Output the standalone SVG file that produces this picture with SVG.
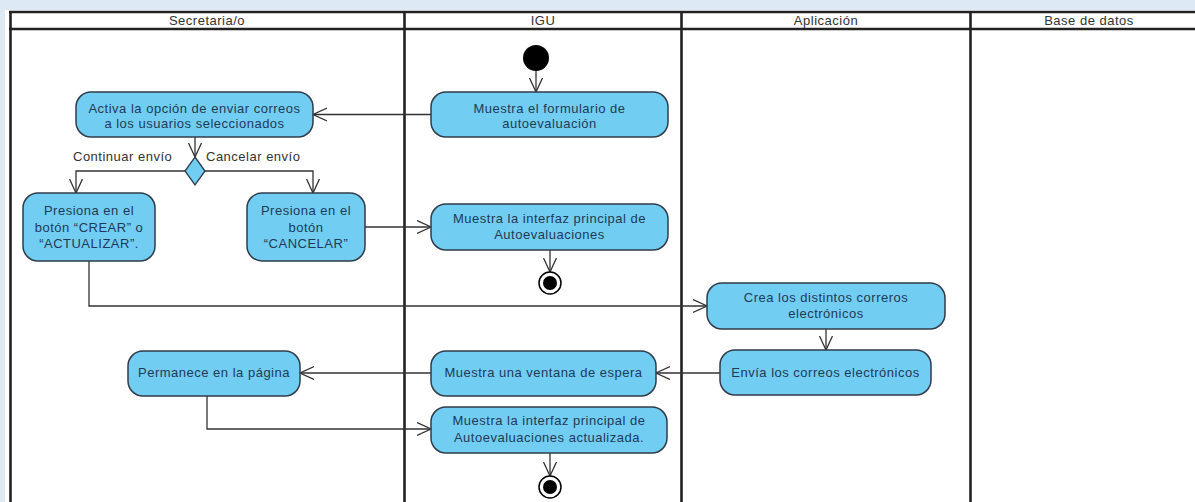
<svg xmlns="http://www.w3.org/2000/svg" width="1195" height="502" viewBox="0 0 1195 502">
<style>
text{font-family:"Liberation Sans",Arial,sans-serif;font-size:13px;letter-spacing:0.5px}
.hd{fill:#333;text-anchor:middle}
.nt{fill:#1f3a56;text-anchor:middle}
.lb{fill:#333}
.act{fill:#72cdf2;stroke:#2f3d4a;stroke-width:1.5}
.lane{stroke:#222;stroke-width:2.6;fill:none}
.con{fill:none;stroke:#333;stroke-width:1.3;marker-end:url(#arr)}
</style>
<defs>
<marker id="arr" markerUnits="userSpaceOnUse" markerWidth="16" markerHeight="16" refX="14" refY="7" orient="auto" viewBox="0 0 16 16">
<path d="M0,0.5 L14,7 L0,13.5" fill="none" stroke="#333" stroke-width="1.3"/>
</marker>
</defs>
<rect x="0" y="0" width="1195" height="502" fill="#dde9f5"/>
<rect x="5" y="10" width="1190" height="492" fill="#ffffff"/>
<g id="swimlanes">
<line class="lane" x1="9" y1="12" x2="1195" y2="12" stroke-width="2"/>
<line class="lane" x1="9" y1="29" x2="1195" y2="29"/>
<line class="lane" x1="10.5" y1="11" x2="10.5" y2="502"/>
<line class="lane" x1="404.5" y1="11" x2="404.5" y2="502"/>
<line class="lane" x1="681.5" y1="11" x2="681.5" y2="502"/>
<line class="lane" x1="970.5" y1="11" x2="970.5" y2="502"/>
<text class="hd" x="207" y="25">Secretaria/o</text>
<text class="hd" x="543" y="25">IGU</text>
<text class="hd" x="826" y="25">Aplicación</text>
<text class="hd" x="1089" y="25">Base de datos</text>
</g>
<g id="connectors">
<path class="con" d="M536,71 L536,92"/>
<path class="con" d="M431,114.5 L313,114.5"/>
<path class="con" d="M195,137 L195,157"/>
<path class="con" d="M185,171 L76,171 L76,193"/>
<path class="con" d="M205,171 L313,171 L313,193"/>
<path class="con" d="M89,261 L89,306 L707,306"/>
<path class="con" d="M365,227 L431,227"/>
<path class="con" d="M550,250 L550,272"/>
<path class="con" d="M826,329 L826,350"/>
<path class="con" d="M720,373 L656,373"/>
<path class="con" d="M431,373 L300,373"/>
<path class="con" d="M207,396 L207,429 L431,429"/>
<path class="con" d="M550,453 L550,476"/>
<text class="lb" x="73" y="161">Continuar envío</text>
<text class="lb" x="206" y="161">Cancelar envío</text>
</g>
<g id="start"><circle cx="536" cy="58" r="13" fill="#000"/></g>
<g id="n1"><rect class="act" x="431" y="92" width="237" height="45" rx="15"/>
<text class="nt" x="549.5" y="113">Muestra el formulario de</text>
<text class="nt" x="549.5" y="128">autoevaluación</text></g>
<g id="n2"><rect class="act" x="76" y="92" width="237" height="45" rx="15"/>
<text class="nt" x="194.5" y="113">Activa la opción de enviar correos</text>
<text class="nt" x="194.5" y="128">a los usuarios seleccionados</text></g>
<g id="decision"><path d="M195,157 L205,171 L195,185 L185,171 Z" fill="#72cdf2" stroke="#2f3d4a" stroke-width="1.3"/></g>
<g id="n3"><rect class="act" x="23" y="193" width="132" height="68" rx="15"/>
<text class="nt" x="89" y="215">Presiona en el</text>
<text class="nt" x="89" y="231.5">botón “CREAR” o</text>
<text class="nt" x="89" y="248">“ACTUALIZAR”.</text></g>
<g id="n4"><rect class="act" x="247" y="193" width="118" height="68" rx="15"/>
<text class="nt" x="306" y="215">Presiona en el</text>
<text class="nt" x="306" y="231.5">botón</text>
<text class="nt" x="306" y="248">“CANCELAR”</text></g>
<g id="n5"><rect class="act" x="431" y="204" width="237" height="46" rx="15"/>
<text class="nt" x="549.5" y="222.5">Muestra la interfaz principal de</text>
<text class="nt" x="549.5" y="238.5">Autoevaluaciones</text></g>
<g id="final1"><circle cx="550" cy="283" r="11" fill="#fff" stroke="#000" stroke-width="1.5"/><circle cx="550" cy="283" r="7" fill="#000"/></g>
<g id="n6"><rect class="act" x="707" y="283" width="238" height="46" rx="15"/>
<text class="nt" x="826" y="302">Crea los distintos correros</text>
<text class="nt" x="826" y="318">electrónicos</text></g>
<g id="n7"><rect class="act" x="720" y="350" width="211" height="45" rx="15"/>
<text class="nt" x="825.5" y="377">Envía los correos electrónicos</text></g>
<g id="n8"><rect class="act" x="431" y="351" width="225" height="45" rx="15"/>
<text class="nt" x="543.5" y="377">Muestra una ventana de espera</text></g>
<g id="n9"><rect class="act" x="128" y="351" width="172" height="45" rx="15"/>
<text class="nt" x="214" y="377">Permanece en la página</text></g>
<g id="n10"><rect class="act" x="431" y="407" width="236" height="46" rx="15"/>
<text class="nt" x="549" y="425">Muestra la interfaz principal de</text>
<text class="nt" x="549" y="441.5">Autoevaluaciones actualizada.</text></g>
<g id="final2"><circle cx="550" cy="487" r="11" fill="#fff" stroke="#000" stroke-width="1.5"/><circle cx="550" cy="487" r="7" fill="#000"/></g>
</svg>
